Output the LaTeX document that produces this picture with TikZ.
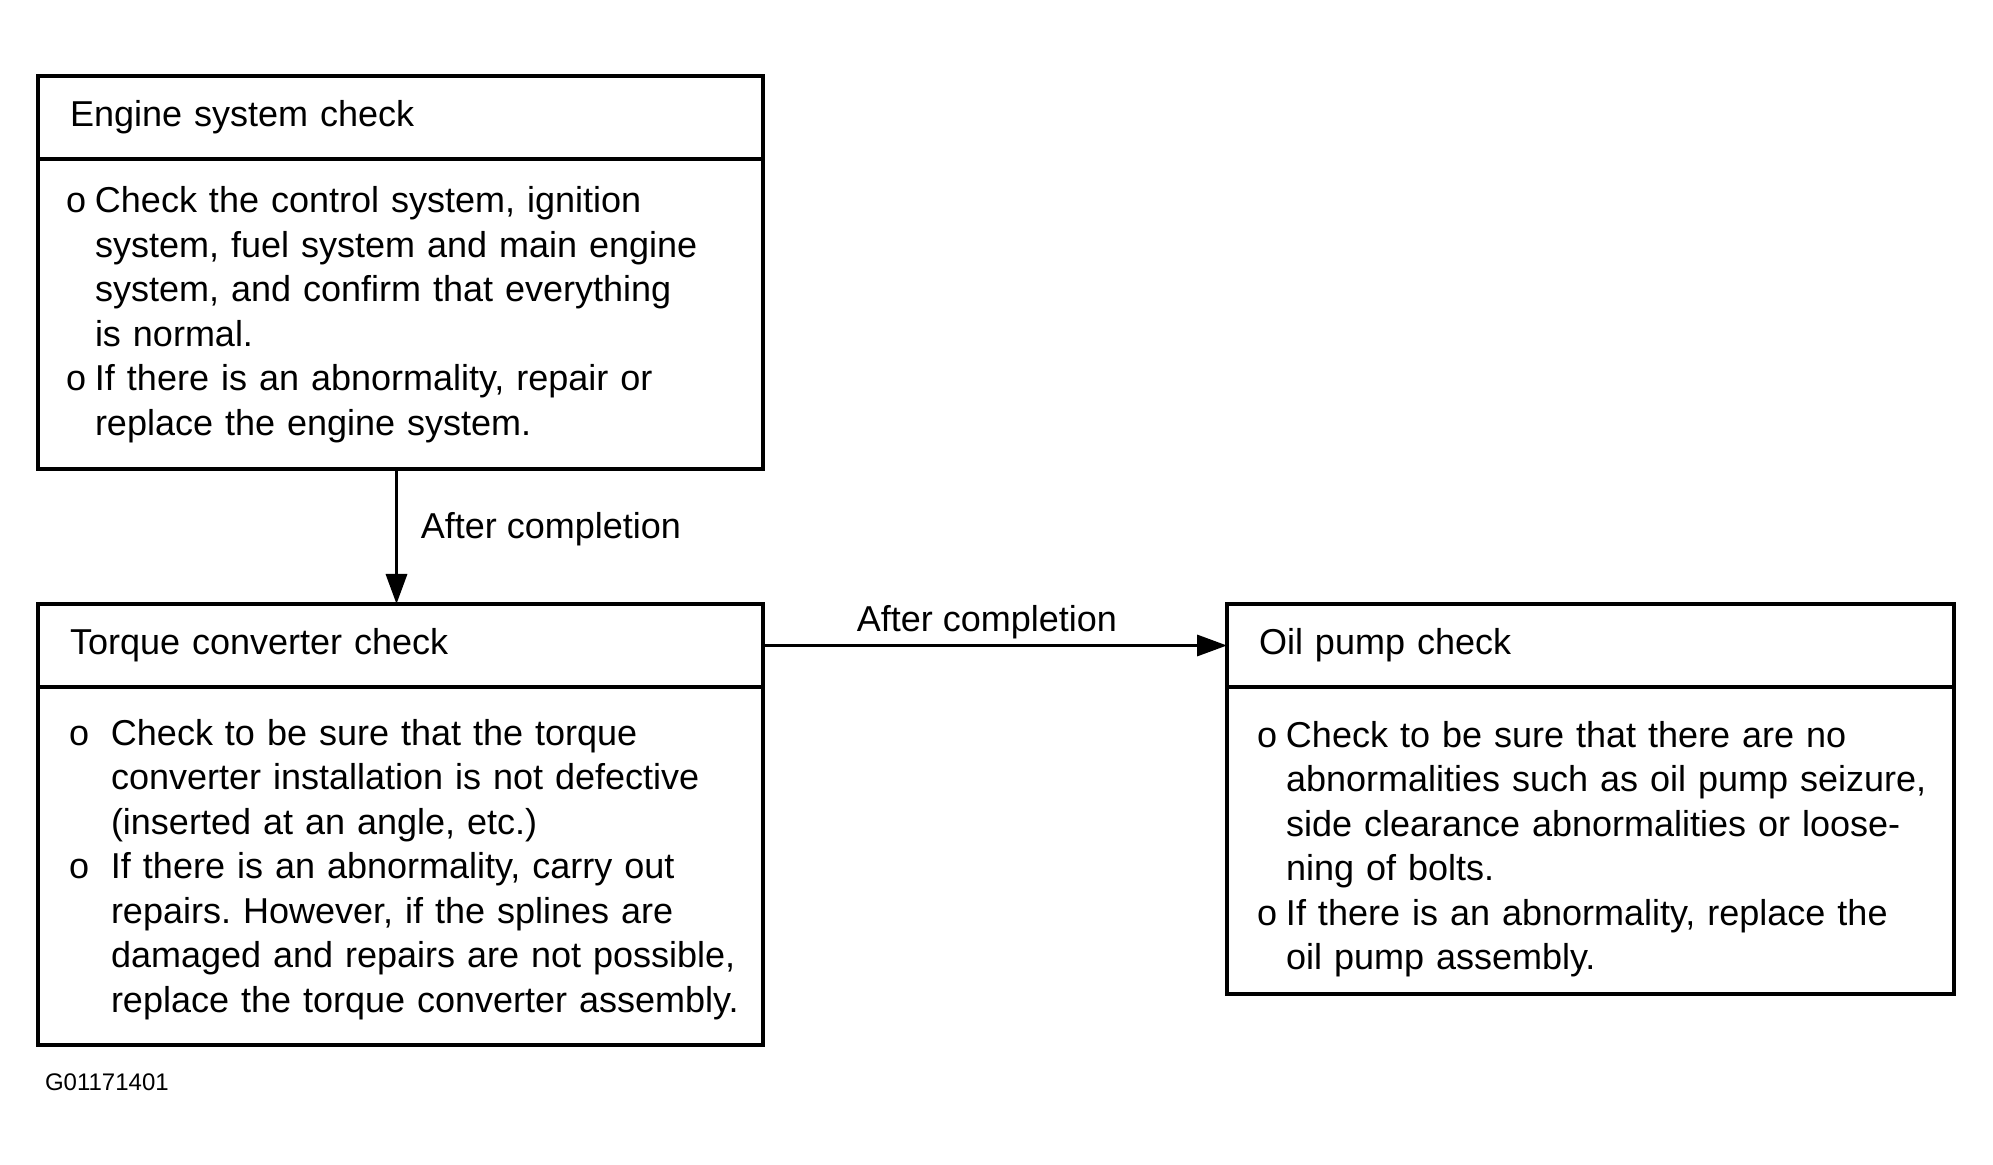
\documentclass[tikz,border=0pt]{standalone}
\usepackage{fontspec}
\setmainfont{Liberation Sans}
\usetikzlibrary{arrows.meta, positioning}
\frenchspacing

\newcommand{\checklist}[3][0pt]{\raisebox{-#1}[\height][\depth]{\begin{tabular}{@{}p{#2}@{}l@{}}#3\end{tabular}}}

\begin{document}
\begin{tikzpicture}[
        node distance=0pt,
        head/.style={rectangle, draw, line width=2pt, outer sep=0pt, minimum height=41.5pt, inner xsep=16pt, align=left, font=\fontsize{18}{22.25}\selectfont},
        body/.style={rectangle, draw, line width=2pt, outer sep=0pt, inner xsep=14pt, align=left, font=\fontsize{18}{22.25}\selectfont},
        flow/.style={-{Triangle[length=15pt, width=10.5pt]}, line width=1.7pt},
        note/.style={font=\fontsize{18}{22.25}\selectfont}
    ]
    \useasboundingbox (0,0) rectangle (996.5pt,-582.5pt);

    \node[head, text width=330.5pt, anchor=north west] (engine) at (19pt,-38pt) {Engine system check};
    \node[body, below=of engine, text width=334.5pt, minimum height=155pt] (enginebody) {\checklist[0.5pt]{14.5pt}{
        o & Check the control system, ignition\\
          & system, fuel system and main engine\\
          & system, and confirm that everything\\
          & is normal.\\
        o & If there is an abnormality, repair or\\
          & replace the engine system.}};

    \node[head, text width=330.5pt, anchor=north west] (torque) at (19pt,-302pt) {Torque converter check};
    \node[body, below=of torque, inner xsep=15.5pt, text width=331.5pt, minimum height=179pt] (torquebody) {\checklist[2pt]{21pt}{
        o & Check to be sure that the torque\\
          & converter installation is not defective\\
          & (inserted at an angle, etc.)\\
        o & If there is an abnormality, carry out\\
          & repairs. However, if the splines are\\
          & damaged and repairs are not possible,\\
          & replace the torque converter assembly.}};

    \node[head, text width=331.5pt, anchor=north west] (oil) at (613.5pt,-302pt) {Oil pump check};
    \node[body, below=of oil, inner xsep=15pt, text width=333.5pt, minimum height=153.5pt] (oilbody) {\checklist[4.5pt]{14.5pt}{
        o & Check to be sure that there are no\\
          & abnormalities such as oil pump seizure,\\
          & side clearance abnormalities or loose-\\
          & ning of bolts.\\
        o & If there is an abnormality, replace the\\
          & oil pump assembly.}};

    \draw[flow] ([xshift=-2pt]enginebody.south) -- node[note, midway, right=8pt, yshift=3.8pt] {After completion} ([xshift=-2pt]torque.north);
    \draw[flow] (torque.east) -- node[note, midway, above=-1pt, xshift=-4pt] {After completion} (oil.west);

    \node[font=\fontsize{12}{14}\selectfont, anchor=base west] (code) at (19pt,-545pt) {G01171401};
\end{tikzpicture}
\end{document}
